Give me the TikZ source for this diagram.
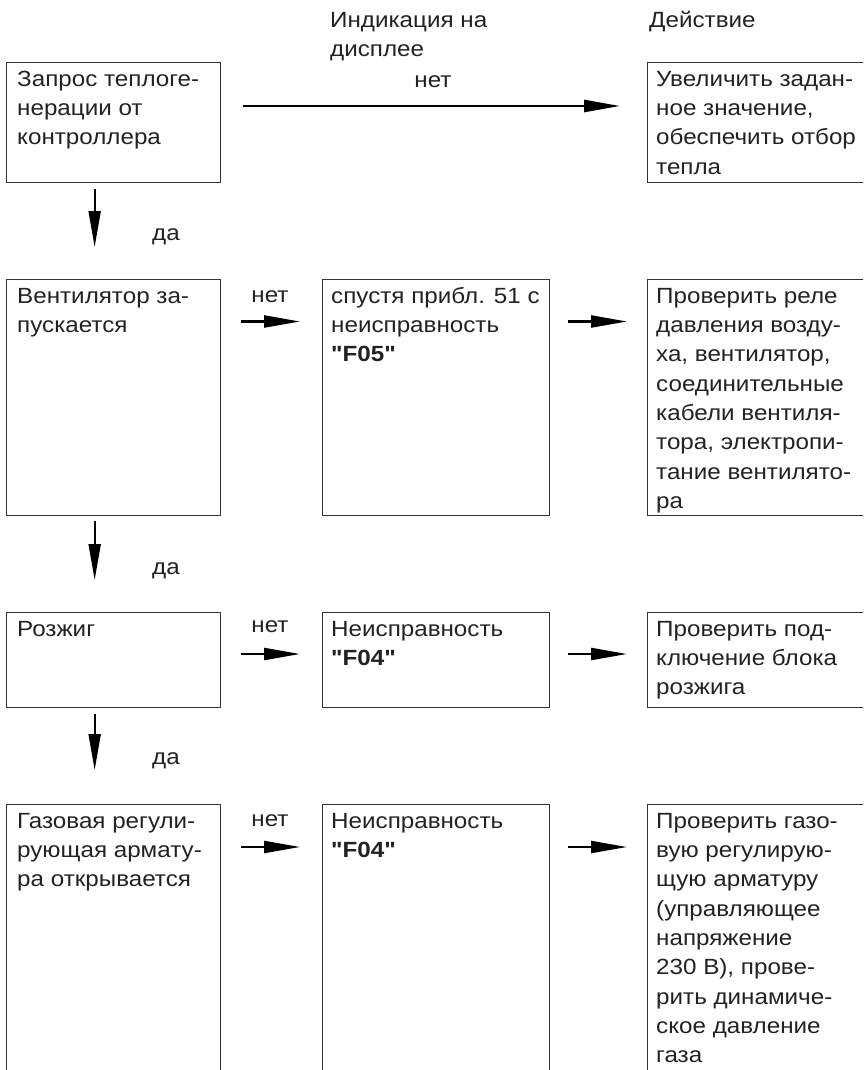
\documentclass[tikz,border=0pt]{standalone}
\usepackage{fontspec}
\setmainfont{Liberation Sans}
\newfontfamily\lsans{Liberation Sans}[FakeStretch=1.1]
\usetikzlibrary{arrows.meta}
\definecolor{boxgray}{HTML}{333333}
\definecolor{textgray}{HTML}{222222}
\begin{document}
\begin{tikzpicture}[x=1pt,y=1pt,
  box/.style={draw=boxgray, line width=1.3pt, inner sep=0pt, anchor=north west},
  txt/.style={anchor=north west, inner sep=0pt, align=left, font=\lsans\fontsize{22}{29.3}\selectfont, text=textgray},
  lbl/.style={inner sep=0pt, anchor=base, font=\lsans\fontsize{22}{29.3}\selectfont, text=textgray},
  arr/.style={-{Triangle[length=36pt,width=12pt]}, line width=2.2pt, draw=black}]
\useasboundingbox (0,0) rectangle (863,-1070);
\clip (0,0) rectangle (863,-1070);
% headers
\node[txt] (h1) at (330,-6.5) {\strut Индикация на\\дисплее};
\node[txt] (h2) at (649,-6.5) {\strut Действие};
% boxes
\node[box, minimum width=214pt, minimum height=120pt] (b11) at (6,-62) {};
\node[box, minimum width=233pt, minimum height=120pt] (b13) at (647,-62) {};
\node[box, minimum width=214pt, minimum height=236pt] (b21) at (6,-279) {};
\node[box, minimum width=227pt, minimum height=236pt] (b22) at (322,-279) {};
\node[box, minimum width=233pt, minimum height=236pt] (b23) at (647,-279) {};
\node[box, minimum width=214pt, minimum height=95pt] (b31) at (6,-612) {};
\node[box, minimum width=227pt, minimum height=95pt] (b32) at (322,-612) {};
\node[box, minimum width=233pt, minimum height=95pt] (b33) at (647,-612) {};
\node[box, minimum width=214pt, minimum height=280pt] (b41) at (6,-804) {};
\node[box, minimum width=227pt, minimum height=280pt] (b42) at (322,-804) {};
\node[box, minimum width=233pt, minimum height=280pt] (b43) at (647,-804) {};
% texts
\node[txt] (t11) at ([xshift=11pt,yshift=-3.5pt]b11.north west) {\strut Запрос теплоге-\\нерации от\\контроллера};
\node[txt] (t13) at ([xshift=9pt,yshift=-3.5pt]b13.north west) {\strut Увеличить задан-\\ное значение,\\обеспечить отбор\\тепла};
\node[txt] (t21) at ([xshift=11pt,yshift=-3.5pt]b21.north west) {\strut Вентилятор за-\\пускается};
\node[txt] (t22) at ([xshift=9pt,yshift=-3.5pt]b22.north west) {\strut спустя прибл. 51 с\\неисправность\\\textbf{"F05"}};
\node[txt] (t23) at ([xshift=9pt,yshift=-3.5pt]b23.north west) {\strut Проверить реле\\давления возду-\\ха, вентилятор,\\соединительные\\кабели вентиля-\\тора, электропи-\\тание вентилято-\\ра};
\node[txt] (t31) at ([xshift=11pt,yshift=-3.5pt]b31.north west) {\strut Розжиг};
\node[txt] (t32) at ([xshift=9pt,yshift=-3.5pt]b32.north west) {\strut Неисправность\\\textbf{"F04"}};
\node[txt] (t33) at ([xshift=9pt,yshift=-3.5pt]b33.north west) {\strut Проверить под-\\ключение блока\\розжига};
\node[txt] (t41) at ([xshift=11pt,yshift=-3.5pt]b41.north west) {\strut Газовая регули-\\рующая армату-\\ра открывается};
\node[txt] (t42) at ([xshift=9pt,yshift=-3.5pt]b42.north west) {\strut Неисправность\\\textbf{"F04"}};
\node[txt] (t43) at ([xshift=9pt,yshift=-3.5pt]b43.north west) {\strut Проверить газо-\\вую регулирую-\\щую арматуру\\(управляющее\\напряжение\\230 В), прове-\\рить динамиче-\\ское давление\\газа};
% labels
\node[lbl] (n0) at (433,-88) {нет};
\node[lbl] (n2) at (270,-302) {нет};
\node[lbl] (n3) at (270,-632) {нет};
\node[lbl] (n4) at (270,-826) {нет};
\node[lbl] (d1) at (166,-240) {да};
\node[lbl] (d2) at (166,-574) {да};
\node[lbl] (d3) at (166,-764) {да};
% horizontal arrows
\draw[arr, line width=2.6pt, shorten <=22pt, shorten >=27pt] ([yshift=-44pt]b11.north east) -- ([yshift=-44pt]b13.north west);
\draw[arr, shorten <=20pt, shorten >=22pt] ([yshift=-42.5pt]b21.north east) -- ([yshift=-42.5pt]b22.north west);
\draw[arr, shorten <=18pt, shorten >=20pt] ([yshift=-42.5pt]b22.north east) -- ([yshift=-42.5pt]b23.north west);
\draw[arr, shorten <=20pt, shorten >=22pt] ([yshift=-42pt]b31.north east) -- ([yshift=-42pt]b32.north west);
\draw[arr, shorten <=18pt, shorten >=20pt] ([yshift=-42pt]b32.north east) -- ([yshift=-42pt]b33.north west);
\draw[arr, shorten <=20pt, shorten >=22pt] ([yshift=-43pt]b41.north east) -- ([yshift=-43pt]b42.north west);
\draw[arr, shorten <=18pt, shorten >=20pt] ([yshift=-43pt]b42.north east) -- ([yshift=-43pt]b43.north west);
% vertical arrows
\draw[arr, line width=2pt, shorten <=6pt, shorten >=32pt] ([xshift=-19pt]b11.south) -- ([xshift=-19pt]b21.north);
\draw[arr, line width=2pt, shorten <=5pt, shorten >=32pt] ([xshift=-19pt]b21.south) -- ([xshift=-19pt]b31.north);
\draw[arr, line width=2pt, shorten <=6pt, shorten >=34pt] ([xshift=-19pt]b31.south) -- ([xshift=-19pt]b41.north);
\end{tikzpicture}
\end{document}
